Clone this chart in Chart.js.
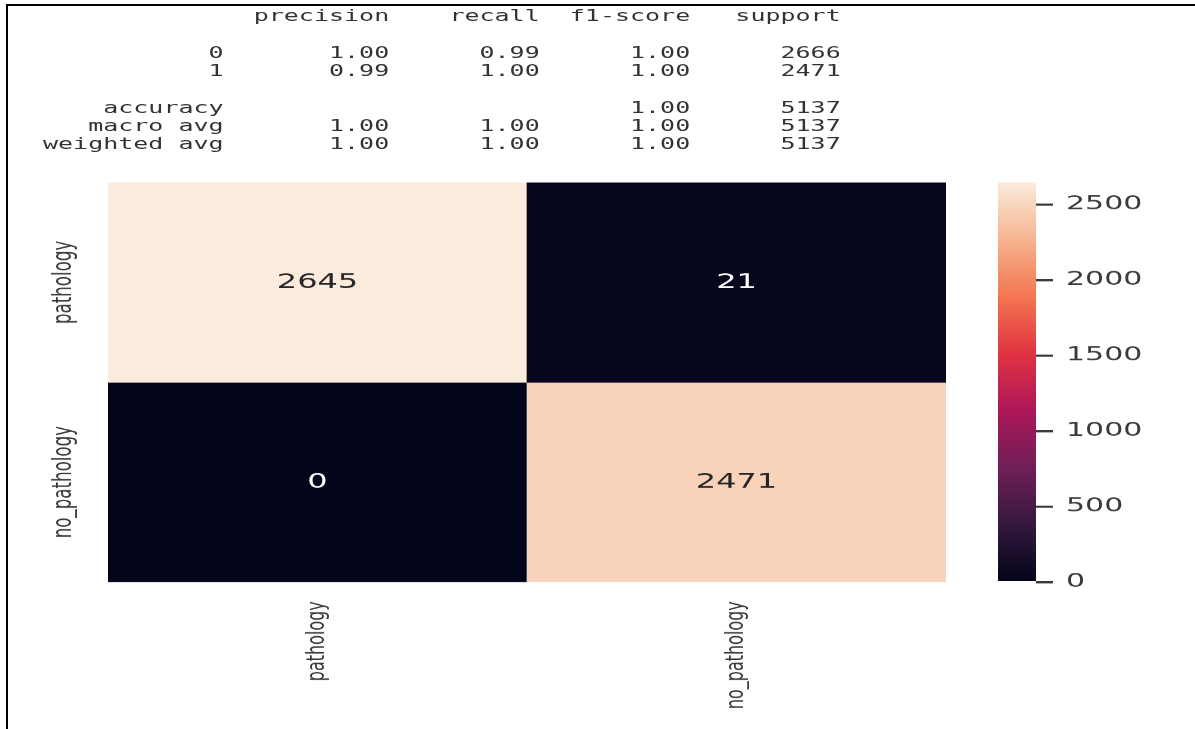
<!DOCTYPE html>
<html>
<head>
<meta charset="utf-8">
<script src="https://cdn.jsdelivr.net/npm/chart.js@4.4.1/dist/chart.umd.min.js"></script>
<style>
  html, body { margin: 0; padding: 0; background: #fff; overflow: hidden; }
  #page { position: relative; width: 1195px; height: 729px; overflow: hidden; background: #fff; }
  #frame { position: absolute; left: 6px; top: 4px; right: -10px; bottom: -10px;
           border-top: 2px solid #000; border-left: 2px solid #000; pointer-events: none; }
  /* the whole figure is laid out tall and pressed to the page height */
  #stage { position: absolute; left: 0; top: 0; width: 1195px; height: 1139px;
           transform: scaleY(0.64); transform-origin: 0 0; }
  #report { position: absolute; left: 43px; top: 11px; margin: 0;
            font: 25px/28.57px "DejaVu Sans Mono", monospace; color: #333; white-space: pre; }
  canvas { position: absolute; left: 0; top: 0; }
</style>
</head>
<body>
<div id="page">
  <div id="stage">
    <pre id="report"></pre>
    <canvas id="heat" width="1195" height="1139" style="width:1195px;height:1139px"></canvas>
    <canvas id="cbar" width="1195" height="1139" style="width:1195px;height:1139px"></canvas>
  </div>
  <div id="frame"></div>
</div>
<script>
// ---- confusion matrix (rows: true class, columns: predicted class) ----
const classNames = ['pathology', 'no_pathology'];
const rowPathology = [2645, 21];
const rowNoPathology = [0, 2471];
const colorbarTicks = [0, 500, 1000, 1500, 2000, 2500];

// ---- classification report ----
const reportClasses = ['0', '1'];
const precision = [1.00, 0.99];
const recall = [0.99, 1.00];
const f1Score = [1.00, 1.00];
const support = [2666, 2471];
const accuracy = 1.00;
const macroAvg = [1.00, 1.00, 1.00];
const weightedAvg = [1.00, 1.00, 1.00];
const totalSupport = 5137;

// text of the report, laid out like sklearn's classification_report
(function buildReport() {
  const pad = (s, n) => String(s).padStart(n);
  const f2 = v => v.toFixed(2);
  const headers = ['precision', 'recall', 'f1-score', 'support'];
  const lines = [];
  lines.push(pad('', 12) + ' ' + headers.map(h => ' ' + pad(h, 9)).join(''));
  lines.push('');
  reportClasses.forEach((c, i) => {
    lines.push(pad(c, 12) + ' ' + [precision[i], recall[i], f1Score[i]].map(v => ' ' + pad(f2(v), 9)).join('') + ' ' + pad(support[i], 9));
  });
  lines.push('');
  lines.push(pad('accuracy', 12) + ' ' + ' ' + pad('', 9) + ' ' + pad('', 9) + ' ' + pad(f2(accuracy), 9) + ' ' + pad(totalSupport, 9));
  lines.push(pad('macro avg', 12) + ' ' + macroAvg.map(v => ' ' + pad(f2(v), 9)).join('') + ' ' + pad(totalSupport, 9));
  lines.push(pad('weighted avg', 12) + ' ' + weightedAvg.map(v => ' ' + pad(f2(v), 9)).join('') + ' ' + pad(totalSupport, 9));
  document.getElementById('report').textContent = lines.join('\n');
})();

// ---- "rocket" colour map ----
const rocketStops = [
  [0.000, '#03051a'],
  [0.143, '#35193e'],
  [0.286, '#701f57'],
  [0.429, '#ad1759'],
  [0.571, '#e13342'],
  [0.714, '#f37651'],
  [0.857, '#f6b48f'],
  [1.000, '#faebdd']
];
function hexToRgb(h) {
  return [parseInt(h.slice(1, 3), 16), parseInt(h.slice(3, 5), 16), parseInt(h.slice(5, 7), 16)];
}
function rocketRgb(t) {
  t = Math.max(0, Math.min(1, t));
  for (let i = 1; i < rocketStops.length; i++) {
    const [t1, c1] = rocketStops[i];
    if (t <= t1) {
      const [t0, c0] = rocketStops[i - 1];
      const k = (t - t0) / (t1 - t0);
      const a = hexToRgb(c0), b = hexToRgb(c1);
      return a.map((v, j) => Math.round(v + (b[j] - v) * k));
    }
  }
  return hexToRgb(rocketStops[rocketStops.length - 1][1]);
}
const rgbCss = c => `rgb(${c[0]},${c[1]},${c[2]})`;
function luminance(c) {
  const lin = c.map(v => { v /= 255; return v <= 0.03928 ? v / 12.92 : Math.pow((v + 0.055) / 1.055, 2.4); });
  return 0.2126 * lin[0] + 0.7152 * lin[1] + 0.0722 * lin[2];
}

const matrix = [rowPathology, rowNoPathology];
const allValues = matrix.flat();
const vmin = Math.min(...allValues);
const vmax = Math.max(...allValues);
const norm = v => (v - vmin) / (vmax - vmin);

// ---- geometry of the figure (unpressed stage coordinates) ----
const STAGE_H = 1139;
const PLOT_TOP = 285.2;
const PLOT_BOTTOM = 909.4;
const PLOT_LEFT = 108;
const PLOT_RIGHT = 946;
const CBAR_LEFT = 998;
const CBAR_RIGHT = 1036;

// row labels, read bottom-to-top beside each row
const rowLabelPlugin = {
  id: 'rowLabels',
  afterDraw(chart) {
    const { ctx } = chart;
    const ys = chart.scales.y;
    ctx.save();
    ctx.fillStyle = '#3a3a3a';
    ctx.font = '26px "DejaVu Sans"';
    ctx.textAlign = 'center';
    ctx.textBaseline = 'middle';
    classNames.forEach((name, r) => {
      ctx.save();
      ctx.translate(64, ys.getPixelForValue(r + 0.5));
      ctx.rotate(-Math.PI / 2);
      ctx.fillText(name, 0, 0);
      ctx.restore();
    });
    ctx.restore();
  }
};

// counts written in the middle of each cell
const cellValuePlugin = {
  id: 'cellValues',
  afterDatasetsDraw(chart) {
    const { ctx } = chart;
    ctx.save();
    ctx.font = '32px "DejaVu Sans"';
    ctx.textAlign = 'center';
    ctx.textBaseline = 'middle';
    chart.data.datasets.forEach((ds, r) => {
      chart.getDatasetMeta(r).data.forEach((bar, c) => {
        const v = matrix[r][c];
        ctx.fillStyle = luminance(rocketRgb(norm(v))) > 0.408 ? '#262626' : '#ffffff';
        ctx.fillText(String(v), bar.x, (bar.y + bar.base) / 2);
      });
    });
    ctx.restore();
  }
};

new Chart(document.getElementById('heat'), {
  type: 'bar',
  data: {
    labels: classNames,
    datasets: matrix.map((row, r) => ({
      label: classNames[r],
      data: row.map(() => [r, r + 1]),
      backgroundColor: row.map(v => rgbCss(rocketRgb(norm(v)))),
      borderWidth: 0,
      barPercentage: 1,
      categoryPercentage: 1,
      grouped: false
    }))
  },
  options: {
    responsive: false,
    animation: false,
    events: [],
    layout: { padding: { left: PLOT_LEFT, right: 1195 - PLOT_RIGHT, top: PLOT_TOP, bottom: 0 } },
    plugins: { legend: { display: false }, tooltip: { enabled: false } },
    scales: {
      x: {
        type: 'category',
        position: 'bottom',
        grid: { display: false, drawTicks: false },
        border: { display: false },
        ticks: {
          autoSkip: false, minRotation: 90, maxRotation: 90, padding: 30,
          color: '#3a3a3a', font: { family: 'DejaVu Sans', size: 25 }
        },
        afterFit(scale) { scale.height = STAGE_H - PLOT_BOTTOM; }
      },
      y: { type: 'linear', min: 0, max: 2, reverse: true, display: false }
    }
  },
  plugins: [rowLabelPlugin, cellValuePlugin]
});

// colour bar
new Chart(document.getElementById('cbar'), {
  type: 'bar',
  data: {
    labels: [''],
    datasets: [{
      data: [[vmin, vmax]],
      backgroundColor(ctx) {
        const chart = ctx.chart;
        if (!chart.chartArea) return '#000';
        const ys = chart.scales.y;
        const g = chart.ctx.createLinearGradient(0, ys.getPixelForValue(vmin), 0, ys.getPixelForValue(vmax));
        rocketStops.forEach(([t, c]) => g.addColorStop(t, c));
        return g;
      },
      borderWidth: 0,
      barPercentage: 1,
      categoryPercentage: 1
    }]
  },
  options: {
    responsive: false,
    animation: false,
    events: [],
    layout: { padding: { left: CBAR_LEFT, right: 0, top: PLOT_TOP, bottom: STAGE_H - PLOT_BOTTOM } },
    plugins: { legend: { display: false }, tooltip: { enabled: false } },
    scales: {
      x: { display: false },
      y: {
        position: 'right',
        min: vmin,
        max: vmax,
        border: { display: false },
        grid: { display: true, drawOnChartArea: false, drawTicks: true, tickLength: 17, color: '#3a3a3a', lineWidth: 3.5 },
        ticks: {
          padding: 13, color: '#3a3a3a', font: { family: 'DejaVu Sans', size: 30 },
          callback: v => String(v)
        },
        afterBuildTicks(scale) { scale.ticks = colorbarTicks.map(v => ({ value: v })); },
        afterFit(scale) { scale.width = 1195 - CBAR_RIGHT; }
      }
    }
  }
});
</script>
</body>
</html>
